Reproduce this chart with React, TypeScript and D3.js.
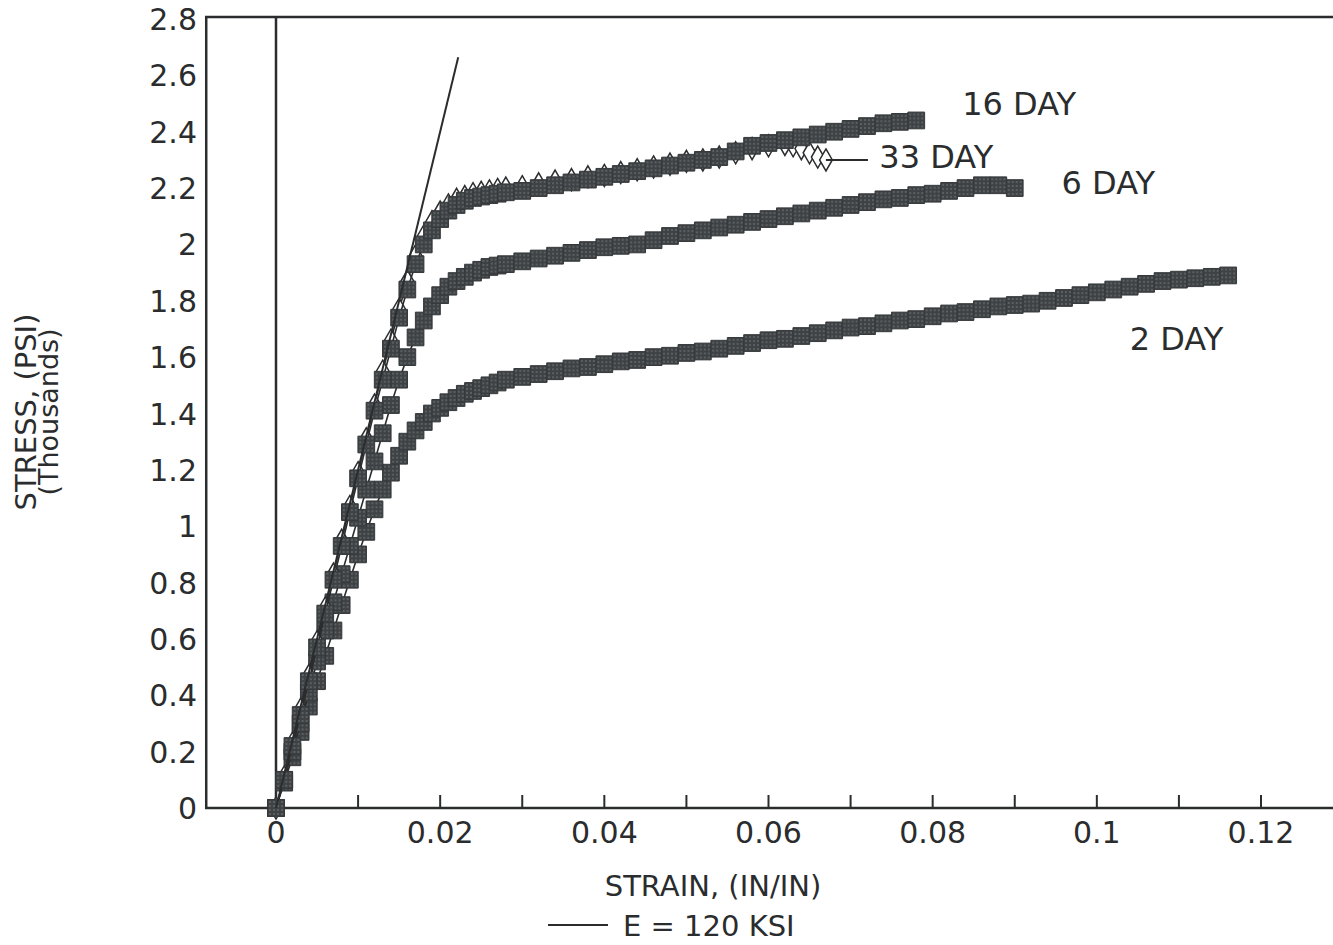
import React, { useEffect, useRef } from "react"
import * as d3 from "d3"

// stress (thousands psi) vs strain (in/in)
const day2: [number, number][] = [
  [0, 0], [0.001, 0.09], [0.002, 0.18], [0.003, 0.27], [0.004, 0.36], [0.005, 0.45],
  [0.006, 0.54], [0.007, 0.63], [0.008, 0.72], [0.009, 0.81], [0.01, 0.9], [0.011, 0.98],
  [0.012, 1.06], [0.013, 1.13], [0.014, 1.19], [0.015, 1.25], [0.016, 1.3], [0.017, 1.34],
  [0.018, 1.37], [0.019, 1.4], [0.02, 1.42], [0.021, 1.44], [0.022, 1.455], [0.023, 1.47],
  [0.024, 1.48], [0.025, 1.49], [0.026, 1.5], [0.027, 1.51], [0.028, 1.52], [0.03, 1.53],
  [0.032, 1.54], [0.034, 1.55], [0.036, 1.56], [0.038, 1.565], [0.04, 1.575], [0.042, 1.585],
  [0.044, 1.59], [0.046, 1.6], [0.048, 1.605], [0.05, 1.615], [0.052, 1.62], [0.054, 1.63],
  [0.056, 1.64], [0.058, 1.65], [0.06, 1.66], [0.062, 1.665], [0.064, 1.675], [0.066, 1.685],
  [0.068, 1.695], [0.07, 1.705], [0.072, 1.71], [0.074, 1.72], [0.076, 1.73], [0.078, 1.735],
  [0.08, 1.745], [0.082, 1.755], [0.084, 1.76], [0.086, 1.77], [0.088, 1.78], [0.09, 1.785],
  [0.092, 1.79], [0.094, 1.8], [0.096, 1.81], [0.098, 1.82], [0.1, 1.83], [0.102, 1.84],
  [0.104, 1.85], [0.106, 1.86], [0.108, 1.87], [0.11, 1.875], [0.112, 1.88], [0.114, 1.885],
  [0.116, 1.89],
]

const day6: [number, number][] = [
  [0, 0], [0.001, 0.1], [0.002, 0.2], [0.003, 0.3], [0.004, 0.41], [0.005, 0.52],
  [0.006, 0.63], [0.007, 0.73], [0.008, 0.83], [0.009, 0.93], [0.01, 1.03], [0.011, 1.13],
  [0.012, 1.23], [0.013, 1.33], [0.014, 1.43], [0.015, 1.52], [0.016, 1.6], [0.017, 1.67],
  [0.018, 1.73], [0.019, 1.78], [0.02, 1.82], [0.021, 1.85], [0.022, 1.87], [0.023, 1.885],
  [0.024, 1.9], [0.025, 1.91], [0.026, 1.92], [0.027, 1.925], [0.028, 1.93], [0.03, 1.94],
  [0.032, 1.95], [0.034, 1.96], [0.036, 1.97], [0.038, 1.98], [0.04, 1.99], [0.042, 1.995],
  [0.044, 2.0], [0.046, 2.015], [0.048, 2.03], [0.05, 2.04], [0.052, 2.05], [0.054, 2.06],
  [0.056, 2.07], [0.058, 2.08], [0.06, 2.09], [0.062, 2.1], [0.064, 2.11], [0.066, 2.12],
  [0.068, 2.13], [0.07, 2.14], [0.072, 2.15], [0.074, 2.16], [0.076, 2.165], [0.078, 2.175],
  [0.08, 2.18], [0.082, 2.19], [0.084, 2.2], [0.086, 2.21], [0.088, 2.21], [0.09, 2.2],
]

const day16: [number, number][] = [
  [0, 0], [0.001, 0.1], [0.002, 0.22], [0.003, 0.33], [0.004, 0.45], [0.005, 0.57],
  [0.006, 0.69], [0.007, 0.81], [0.008, 0.93], [0.009, 1.05], [0.01, 1.17], [0.011, 1.29],
  [0.012, 1.41], [0.013, 1.52], [0.014, 1.63], [0.015, 1.74], [0.016, 1.84], [0.017, 1.93],
  [0.018, 2.0], [0.019, 2.05], [0.02, 2.09], [0.021, 2.12], [0.022, 2.14], [0.023, 2.155],
  [0.024, 2.165], [0.025, 2.17], [0.026, 2.175], [0.027, 2.18], [0.028, 2.185], [0.03, 2.19],
  [0.032, 2.2], [0.034, 2.21], [0.036, 2.22], [0.038, 2.23], [0.04, 2.24], [0.042, 2.25],
  [0.044, 2.26], [0.046, 2.27], [0.048, 2.28], [0.05, 2.29], [0.052, 2.3], [0.054, 2.31],
  [0.056, 2.33], [0.058, 2.35], [0.06, 2.36], [0.062, 2.37], [0.064, 2.38], [0.066, 2.39],
  [0.068, 2.4], [0.07, 2.41], [0.072, 2.42], [0.074, 2.43], [0.076, 2.435], [0.078, 2.44],
]

const day33: [number, number][] = [
  [0, 0], [0.001, 0.11], [0.002, 0.23], [0.003, 0.35], [0.004, 0.47], [0.005, 0.59],
  [0.006, 0.71], [0.007, 0.83], [0.008, 0.95], [0.009, 1.07], [0.01, 1.19], [0.011, 1.31],
  [0.012, 1.43], [0.013, 1.55], [0.014, 1.66], [0.015, 1.77], [0.016, 1.87], [0.017, 1.96],
  [0.018, 2.03], [0.019, 2.08], [0.02, 2.115], [0.021, 2.14], [0.022, 2.16], [0.023, 2.17],
  [0.024, 2.18], [0.025, 2.185], [0.026, 2.19], [0.027, 2.195], [0.028, 2.2], [0.03, 2.205],
  [0.032, 2.215], [0.034, 2.225], [0.036, 2.23], [0.038, 2.24], [0.04, 2.245], [0.042, 2.255],
  [0.044, 2.265], [0.046, 2.275], [0.048, 2.285], [0.05, 2.295], [0.052, 2.3], [0.054, 2.31],
  [0.056, 2.325], [0.058, 2.34], [0.06, 2.35], [0.062, 2.355], [0.063, 2.35], [0.064, 2.34],
  [0.065, 2.325], [0.066, 2.31], [0.067, 2.3],
]

// E = 120 ksi reference line
const modulusLine: [number, number][] = [[0, 0], [0.0222, 2.664]]

const xTicks = [0, 0.02, 0.04, 0.06, 0.08, 0.1, 0.12]
const xMinorTicks = [0.01, 0.02, 0.03, 0.04, 0.05, 0.06, 0.07, 0.08, 0.09, 0.1, 0.11, 0.12]
const yTicks = [0, 0.2, 0.4, 0.6, 0.8, 1, 1.2, 1.4, 1.6, 1.8, 2, 2.2, 2.4, 2.6, 2.8]

const labels = [
  { text: "16 DAY", x: 0.0836, y: 2.46 },
  { text: "6 DAY", x: 0.0957, y: 2.18 },
  { text: "2 DAY", x: 0.104, y: 1.625 },
  { text: "33 DAY", x: 0.0735, y: 2.27 },
]

const FONT = "'DejaVu Sans', Arial, sans-serif"
const INK = "#2a2c2d"

const drawChart = (wrapper: SVGSVGElement) => {
  const svg = d3.select(wrapper)
  svg.selectAll("*").remove()

  const x = d3.scaleLinear().domain([0, 0.12]).range([276, 1261])
  const y = d3.scaleLinear().domain([0, 2.8]).range([808, 19])

  const defs = svg.append("defs")
  const pat = defs
    .append("pattern")
    .attr("id", "dots")
    .attr("width", 4)
    .attr("height", 4)
    .attr("patternUnits", "userSpaceOnUse")
  pat.append("rect").attr("width", 4).attr("height", 4).attr("fill", "#3e4244")
  pat.append("circle").attr("cx", 2).attr("cy", 2).attr("r", 0.7).attr("fill", "#8c9193")

  const left = x(-0.0085)
  const right = x(0.1315)
  const top = 17
  const bottom = y(0)

  // plot frame
  svg
    .append("rect")
    .attr("x", left)
    .attr("y", top)
    .attr("width", right - left)
    .attr("height", bottom - top)
    .attr("fill", "none")
    .attr("stroke", INK)
    .attr("stroke-width", 2.5)

  // vertical line at zero strain
  svg
    .append("line")
    .attr("x1", x(0))
    .attr("x2", x(0))
    .attr("y1", top)
    .attr("y2", bottom)
    .attr("stroke", INK)
    .attr("stroke-width", 2.5)

  // x ticks
  svg
    .selectAll(".xtick")
    .data(xMinorTicks)
    .enter()
    .append("line")
    .attr("x1", d => x(d))
    .attr("x2", d => x(d))
    .attr("y1", bottom)
    .attr("y2", bottom - 13)
    .attr("stroke", INK)
    .attr("stroke-width", 2)

  svg
    .selectAll(".xlab")
    .data(xTicks)
    .enter()
    .append("text")
    .attr("x", d => x(d))
    .attr("y", bottom + 35)
    .attr("text-anchor", "middle")
    .style("font-family", FONT)
    .style("font-size", "30px")
    .attr("fill", INK)
    .text(d => String(d))

  svg
    .selectAll(".ylab")
    .data(yTicks)
    .enter()
    .append("text")
    .attr("x", 197)
    .attr("y", d => y(d) + 11)
    .attr("text-anchor", "end")
    .style("font-family", FONT)
    .style("font-size", "30px")
    .attr("fill", INK)
    .text(d => String(d))

  // axis titles
  svg
    .append("text")
    .attr("x", 713)
    .attr("y", 896)
    .attr("text-anchor", "middle")
    .style("font-family", FONT)
    .style("font-size", "29px")
    .attr("fill", INK)
    .text("STRAIN, (IN/IN)")

  const yt = svg.append("g").attr("transform", "translate(36,412) rotate(-90)")
  yt.append("text")
    .attr("text-anchor", "middle")
    .style("font-family", FONT)
    .style("font-size", "29px")
    .attr("fill", INK)
    .text("STRESS, (PSI)")
  yt.append("text")
    .attr("y", 22)
    .attr("text-anchor", "middle")
    .style("font-family", FONT)
    .style("font-size", "27px")
    .attr("fill", INK)
    .text("(Thousands)")

  const line = d3
    .line<[number, number]>()
    .x(d => x(d[0]))
    .y(d => y(d[1]))

  const square = d3.symbol().type(d3.symbolSquare).size(280)
  const diamond = d3.symbol().type(d3.symbolDiamond).size(140)

  const drawSeries = (data: [number, number][], kind: "square" | "diamond") => {
    const g = svg.append("g")
    g.append("path")
      .attr("d", line(data))
      .attr("fill", "none")
      .attr("stroke", INK)
      .attr("stroke-width", 1.6)
    g.selectAll("path.m")
      .data(data)
      .enter()
      .append("path")
      .attr("class", "m")
      .attr("transform", d => "translate(" + x(d[0]) + "," + y(d[1]) + ")")
      .attr("d", kind === "square" ? square() : diamond())
      .attr("fill", kind === "square" ? "url(#dots)" : "#ffffff")
      .attr("stroke", kind === "square" ? "#35393b" : INK)
      .attr("stroke-width", kind === "square" ? 1 : 1.5)
  }

  drawSeries(day2, "square")
  drawSeries(day6, "square")
  drawSeries(day33, "diamond")
  drawSeries(day16, "square")

  // E = 120 ksi line
  svg
    .append("path")
    .attr("d", line(modulusLine))
    .attr("fill", "none")
    .attr("stroke", INK)
    .attr("stroke-width", 2)

  // leader from last 33 day point to its label
  const last33 = day33[day33.length - 1]
  svg
    .append("line")
    .attr("x1", x(last33[0]))
    .attr("x2", x(last33[0]) + 42)
    .attr("y1", y(last33[1]))
    .attr("y2", y(last33[1]))
    .attr("stroke", INK)
    .attr("stroke-width", 2)

  svg
    .selectAll(".lab")
    .data(labels)
    .enter()
    .append("text")
    .attr("x", d => x(d.x))
    .attr("y", d => y(d.y))
    .style("font-family", FONT)
    .style("font-size", "32px")
    .attr("fill", INK)
    .text(d => d.text)

  // legend
  svg
    .append("line")
    .attr("x1", 548)
    .attr("x2", 608)
    .attr("y1", 925)
    .attr("y2", 925)
    .attr("stroke", INK)
    .attr("stroke-width", 2)
  svg
    .append("text")
    .attr("x", 623)
    .attr("y", 936)
    .style("font-family", FONT)
    .style("font-size", "29px")
    .attr("fill", INK)
    .text("E = 120 KSI")
}

export default function App() {
  const ref = useRef<SVGSVGElement>(null)
  useEffect(() => {
    if (ref.current) drawChart(ref.current)
  }, [])

  return (
    <svg
      ref={ref}
      width={1333}
      height={945}
      style={{ position: "absolute", left: 0, top: 0, background: "#ffffff" }}
    ></svg>
  )
}
